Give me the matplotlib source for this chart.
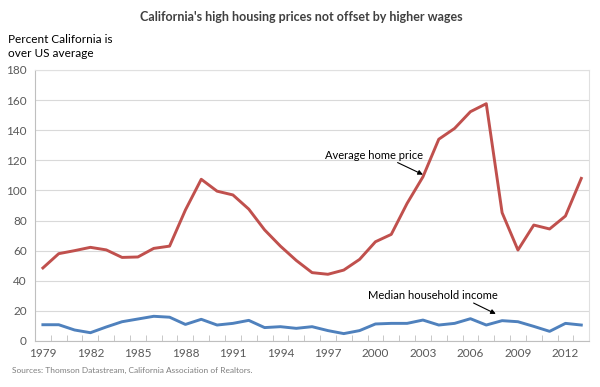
import matplotlib
matplotlib.use("Agg")
import matplotlib.pyplot as plt
from matplotlib.ticker import MultipleLocator

# ---------------------------------------------------------------------------
# Data (percent California is over US average)
# ---------------------------------------------------------------------------
years = list(range(1979, 2014))

home_price = [48.5, 58, 60, 62.2, 60.5, 55.5, 55.8, 61.5, 63, 87,
              107.4, 99.5, 97, 87.6, 73.8, 63, 53.5, 45.4, 44.3, 47.1,
              54.2, 65.9, 70.8, 91.4, 109, 134, 141.2, 152.3, 157.6, 85.2,
              60.4, 77, 74.4, 83, 108]

household_income = [10.8, 10.8, 7.3, 5.5, 9.3, 12.8, 14.6, 16.4, 15.8, 11,
                    14.4, 10.6, 11.7, 13.7, 8.9, 9.5, 8.4, 9.5, 6.9, 4.9,
                    6.9, 11.3, 11.7, 11.7, 13.9, 10.6, 11.7, 14.8, 10.6, 13.5,
                    12.8, 9.7, 6.4, 11.7, 10.6]

tick_years = list(range(1979, 2013, 3))

RED = "#C0504D"
BLUE = "#4F81BD"
GREY_TEXT = "#595959"

plt.rcParams["font.family"] = ["Lato", "DejaVu Sans"]

fig = plt.figure(figsize=(6, 3.87), dpi=100)
ax = fig.add_axes([0.0583, 0.1189, 0.9237, 0.7003])

x = list(range(len(years)))
ax.plot(x, home_price, color=RED, lw=2.1, solid_joinstyle="round", zorder=3)
ax.plot(x, household_income, color=BLUE, lw=2.1, solid_joinstyle="round", zorder=3)

ax.set_xlim(-0.5, len(years) - 0.5)
ax.set_ylim(0, 180)
ax.yaxis.set_major_locator(MultipleLocator(20))
ax.grid(axis="y", color="#D9D9D9", lw=0.8, zorder=0)

ax.set_xticks([years.index(y) for y in tick_years])
ax.set_xticklabels([str(y) for y in tick_years])
ax.set_xticks([i - 0.5 for i in range(len(years) + 1)], minor=True)
ax.tick_params(axis="x", which="major", length=0, labelsize=8.5, colors=GREY_TEXT, pad=5)
ax.tick_params(axis="x", which="minor", length=4, color="#BFBFBF", direction="in")
ax.tick_params(axis="y", length=0, labelsize=8.5, colors=GREY_TEXT, pad=6)

for side in ["top", "right"]:
    ax.spines[side].set_color("#E0E0E0")
    ax.spines[side].set_linewidth(0.8)
ax.spines["left"].set_color("#BFBFBF")
ax.spines["bottom"].set_color("#BFBFBF")

# Annotations: text and arrow placed separately, like the Excel callouts
arrow = dict(arrowstyle="-|>", color="black", lw=0.8, mutation_scale=7,
             shrinkA=0, shrinkB=0)
ax.text(17.8, 123.5, "Average home price", fontsize=8, ha="left", va="center")
ax.annotate("", xy=(24.0, 110.5), xytext=(22.4, 118.5), arrowprops=arrow)
ax.text(20.5, 30, "Median household income", fontsize=8, ha="left", va="center")
ax.annotate("", xy=(28.6, 18), xytext=(27.2, 25.2), arrowprops=arrow)

fig.text(0.502, 0.956, "California's high housing prices not offset by higher wages",
         ha="center", va="center", fontsize=9, color="#404040", fontweight="bold")
fig.text(0.013, 0.899, "Percent California is", ha="left", va="center",
         fontsize=8.5, color="black")
fig.text(0.013, 0.863, "over US average", ha="left", va="center",
         fontsize=8.5, color="black")
fig.text(0.02, 0.044, "Sources: Thomson Datastream, California Association of Realtors.",
         ha="left", va="center", fontsize=6, color="#7F7F7F")

fig.savefig("out.png", dpi=100)
